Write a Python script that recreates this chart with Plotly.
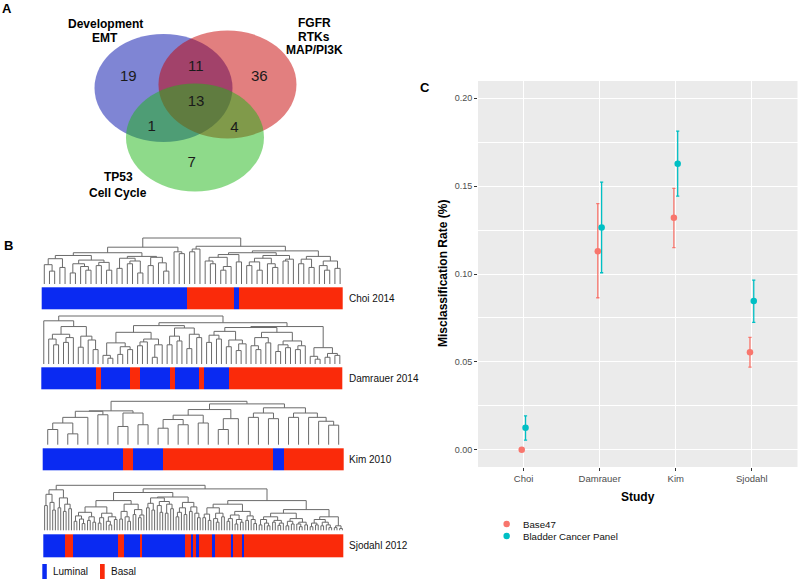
import numpy as np
import plotly.graph_objects as go

FONT = "Liberation Sans, Arial, sans-serif"

# ---------------- Panel C data ----------------
STUDIES = ["Choi", "Damrauer", "Kim", "Sjodahl"]
SERIES = ["Base47", "Bladder Cancer Panel"]
BASE47_RATE = [0.000, 0.113, 0.132, 0.0555]
BASE47_LOW = [0.000, 0.0865, 0.115, 0.047]
BASE47_HIGH = [0.000, 0.140, 0.1487, 0.0639]
BCP_RATE = [0.0125, 0.1265, 0.1627, 0.0846]
BCP_LOW = [0.0055, 0.1007, 0.1443, 0.0725]
BCP_HIGH = [0.0193, 0.1523, 0.1813, 0.0965]
Y_TICKS = [0.00, 0.05, 0.10, 0.15, 0.20]
Y_TICK_TEXT = ["0.00", "0.05", "0.10", "0.15", "0.20"]
Y_MINOR = [0.025, 0.075, 0.125, 0.175]

# ---------------- Panel A data ----------------
VENN_SETS = [["Development", "EMT"], ["FGFR", "RTKs", "MAP/PI3K"], ["TP53", "Cell Cycle"]]
VENN_COUNTS = [19, 11, 36, 13, 1, 4, 7]  # A only, A&B, B only, all, A&C, B&C, C only

# ---------------- Panel B data ----------------
BAR_CLASSES = ["Luminal", "Basal"]
# alternating run lengths of leaf classes, starting with Luminal
CHOI_RUNS = [28, 9, 1, 20]
DAMRAUER_RUNS = [11, 1, 6, 2, 6, 1, 5, 1, 5, 23]
KIM_RUNS = [8, 1, 3, 11, 1, 6]
SJODAHL_RUNS = [8, 3, 17, 2, 6, 1, 16, 2, 1, 1, 1, 5, 1, 6, 1, 3, 1, 37]
STUDY_LABELS = ["Choi 2014", "Damrauer 2014", "Kim 2010", "Sjodahl 2012"]

# dendrograms: "o" = leaf, "(a,b)h" = merge at height h (0..100)
CHOI_TREE = ("((((((o,(o,o)28)42,(o,o)36)55,(((o,o)24,(o,(o,o)30)38)44,((o,o)40,(o,o)30)47)52)62,"
             "(((o,o)34,((o,o)44,(o,o)24)50)56,((o,o)40,(o,(o,o)28)46)58)60)68,(o,(o,o)66)70)80,"
             "(((o,o)70,o)76,(((((o,(o,o)44)50,((o,o)30,o)38)58,(o,o)48)64,"
             "((((o,o)40,(o,o)30)48,(o,(o,o)36)44)56,((o,o)50,o)54)62)68,"
             "(((o,o)44,(o,o)36)54,((o,(o,o)30)40,(o,o)34)50)60)72)82)100")
DAMRAUER_TREE = ("((o,(((o,(o,o)40)52,((o,o)45,o)55)62,((o,o)35,(o,(o,o)30)50)58)78)90,"
                 "(((((o,(o,o)12)18,((o,o)20,(o,o)30)36)44,(((o,o)38,o)46,((o,o)14,o)40)52)66,"
                 "(((o,o)40,(o,o)48)58,((o,o)32,(o,o)55)62)75)80,"
                 "(((((o,o)45,(o,o)52)60,((o,o)36,((o,o)28,o)42)50)68,(((o,(o,o)30)38,(o,o)44)55,"
                 "(((o,o)26,(o,o)34)40,((o,o)30,o)38)48)66)76,"
                 "((o,(o,o)10)16,((o,o)14,(o,o)18)22)34)78)86)100")
KIM_TREE = ("((((((o,o)35,(o,o)25)50,o)63,(o,o)69)77,((o,o)42,(o,o)46)73)78,"
            "(((((o,o)38,(o,o)46)58,(o,o)50)68,((o,o)35,o)60)81,"
            "(((o,o)63,(o,o)60)73,((o,o)63,(o,(o,(o,o)45)54)63)73)85)94)100")
SJ_BLOCKS = {
    "A": "(((o,o)55,(o,(o,o)45)62)80,((o,o)50,((o,o)42,(o,o)48)58)72)90",
    "B": "((((o,o)20,(o,(o,o)15)25)32,((o,o)22,(o,o)18)30)40,(((o,o)16,o)28,((o,(o,o)12)20,(o,o)24)30)38)52",
    "C": "(((o,o)25,(o,(o,o)20)30)42,((o,o)35,((o,o)28,o)34)46)58",
    "D": "(((o,o)50,(o,o)45)60,((o,(o,o)40)55,((o,o)38,(o,o)48)58)64)72",
    "E": "((((o,o)30,o)40,(o,o)35)50,((o,o)42,(o,(o,o)28)38)52)62",
    "F": "(((o,o)28,(o,o)22)36,((o,(o,o)18)26,(o,o)30)38)50",
    "G": "((((o,o)20,o)26,((o,o)14,(o,o)18)24)34,((o,o)22,(o,(o,o)15)24)32)42",
    "H": "(((o,o)12,(o,(o,o)10)16)24,((o,o)18,((o,o)11,o)16)22)30",
    "I": "(((o,o)10,(o,o)14)20,((o,(o,o)8)14,(o,o)12)18)26",
    "J": "(((o,o)8,(o,o)12)16,((o,o)10,(o,(o,o)6)12)18)24",
    "K": "((o,o)6,(o,o)4)10",
}
SJODAHL_TREE = "({A},((({B},{C})66,({D},{E})74)84,(({F},{G})58,(({H},{I})38,({J},{K})30)46)66)92)100".format(**SJ_BLOCKS)

# ---------------- geometry (pixels) ----------------
W, H = 799, 580
# x0, x1, bar_top, bar_bottom, tree_top, tree_base
B_GEOM = [
    (41.7, 342.7, 287.3, 309.3, 238.0, 284.0),
    (41.3, 342.3, 367.3, 389.3, 316.0, 364.0),
    (42.7, 343.7, 448.3, 470.0, 401.3, 444.7),
    (43.3, 343.7, 534.3, 557.3, 485.3, 530.3),
]
VENN_ELLIPSES = [(163.5, 88.0), (227.5, 84.5), (195.0, 137.5)]
VENN_RX, VENN_RY = 69.0, 54.0
VENN_FILLS = ["rgb(0,12,170)", "rgb(198,0,0)", "rgb(30,182,22)"]
VENN_COUNT_XY = [(128.3, 77.5), (195.7, 67.7), (259.3, 77), (196, 102.7), (151.7, 127.5), (234.3, 128.3), (191.7, 163.3)]
VENN_LABEL_XY = [(105, [24, 38]), (314, [23, 37, 50]), (118.3, [177, 192.5])]

BLUE = "#0a2af2"
RED = "#fa2a0a"
C_COLORS = ["#F8766D", "#00BFC4"]

PX = dict(xaxis="x2", yaxis="y2")


def parse_tree(s):
    pos = 0

    def node():
        nonlocal pos
        if s[pos] == "o":
            pos += 1
            return None
        assert s[pos] == "("
        pos += 1
        kids = [node()]
        while s[pos] == ",":
            pos += 1
            kids.append(node())
        assert s[pos] == ")"
        pos += 1
        st = pos
        while pos < len(s) and (s[pos].isdigit() or s[pos] == "."):
            pos += 1
        return (float(s[st:pos]), kids)

    return node()


def tree_lines(tree, geom):
    x0, x1, _, _, top, base = geom
    counter = [0]

    def count(n):
        if n is None:
            return 1
        return sum(count(k) for k in n[1])

    n_leaves = count(tree)
    step = (x1 - x0) / n_leaves
    xs, ys = [], []

    def ypix(h):
        return base - h / 100.0 * (base - top)

    def walk(n):
        if n is None:
            i = counter[0]
            counter[0] += 1
            return x0 + (i + 0.5) * step, 0.0
        h, kids = n
        pts = [walk(k) for k in kids]
        for (cx, ch) in pts:
            xs.extend([cx, cx, None])
            ys.extend([ypix(ch), ypix(h), None])
        xs.extend([pts[0][0], pts[-1][0], None])
        ys.extend([ypix(h), ypix(h), None])
        return (pts[0][0] + pts[-1][0]) / 2.0, h

    walk(tree)
    return xs, ys, n_leaves


fig = go.Figure()

# ---------------- Panel C ----------------
dodge = [-0.025, 0.025]
for k, (rate, lo, hi) in enumerate([(BASE47_RATE, BASE47_LOW, BASE47_HIGH), (BCP_RATE, BCP_LOW, BCP_HIGH)]):
    r = np.array(rate)
    fig.add_trace(go.Scatter(
        x=[i + dodge[k] for i in range(len(STUDIES))], y=r, mode="markers",
        marker=dict(size=6.5, color=C_COLORS[k]),
        error_y=dict(type="data", symmetric=False, array=np.array(hi) - r, arrayminus=r - np.array(lo),
                     color=C_COLORS[k], thickness=1.3, width=1.6),
        name=SERIES[k], showlegend=False, xaxis="x", yaxis="y", hoverinfo="skip"))

# ---------------- Panel B ----------------
trees = [CHOI_TREE, DAMRAUER_TREE, KIM_TREE, SJODAHL_TREE]
runs_all = [CHOI_RUNS, DAMRAUER_RUNS, KIM_RUNS, SJODAHL_RUNS]
for t, runs, geom in zip(trees, runs_all, B_GEOM):
    tr = parse_tree(t)
    xs, ys, n = tree_lines(tr, geom)
    fig.add_trace(go.Scatter(x=xs, y=ys, mode="lines", line=dict(color="#6a6a6a", width=1),
                             showlegend=False, hoverinfo="skip", **PX))
    classes = []
    for j, rl in enumerate(runs):
        classes += [j % 2] * rl
    assert len(classes) == n, (len(classes), n)
    x0, x1, bt, bb, _, _ = geom
    fig.add_trace(go.Heatmap(z=[classes], x=list(np.linspace(x0, x1, n + 1)), y=[bt, bb],
                             colorscale=[[0, BLUE], [1, RED]], zmin=0, zmax=1, showscale=False,
                             hoverinfo="skip", **PX))

# ---------------- Panel A counts ----------------
fig.add_trace(go.Scatter(x=[p[0] for p in VENN_COUNT_XY], y=[p[1] for p in VENN_COUNT_XY],
                         mode="text", text=[str(v) for v in VENN_COUNTS],
                         textfont=dict(size=15, color="#1a1a1a", family=FONT),
                         showlegend=False, hoverinfo="skip", **PX))

# ---------------- Panel C legend (manual) ----------------
LEG_Y = [524, 536]
fig.add_trace(go.Scatter(x=[506.7, 506.7], y=LEG_Y, mode="markers",
                         marker=dict(size=6.5, color=C_COLORS), showlegend=False, hoverinfo="skip", **PX))

shapes = [dict(type="rect", xref="x domain", yref="y domain", x0=0, x1=1, y0=0, y1=1,
               fillcolor="#EBEBEB", line=dict(width=0), layer="below")]
for (cx, cy), col in zip(VENN_ELLIPSES, VENN_FILLS):
    shapes.append(dict(type="circle", xref="x2", yref="y2", x0=cx - VENN_RX, x1=cx + VENN_RX,
                       y0=cy - VENN_RY, y1=cy + VENN_RY, fillcolor=col, opacity=0.5,
                       line=dict(width=0), layer="below"))
# B legend swatches
shapes.append(dict(type="rect", xref="x2", yref="y2", x0=42.3, x1=46.8, y0=564, y1=579,
                   fillcolor=BLUE, line=dict(width=0)))
shapes.append(dict(type="rect", xref="x2", yref="y2", x0=100, x1=104.7, y0=564, y1=579,
                   fillcolor=RED, line=dict(width=0)))

ann = []


def txt(x, y, s, size=10, bold=False, xanchor="center", color="#000", angle=0):
    ann.append(dict(x=x, y=y, xref="x2", yref="y2", text=("<b>%s</b>" % s) if bold else s,
                    showarrow=False, xanchor=xanchor, yanchor="middle", textangle=angle,
                    font=dict(size=size, color=color, family=FONT)))


txt(7, 8, "A", 13, True)
txt(8, 245, "B", 13, True)
txt(425, 87, "C", 13, True)
for (x, ys), lines in zip(VENN_LABEL_XY, VENN_SETS):
    for y, s in zip(ys, lines):
        txt(x, y, s, 12, True)
for lab, geom in zip(STUDY_LABELS, B_GEOM):
    txt(346.5, (geom[2] + geom[3]) / 2, lab, 10, xanchor="left", color="#111")
txt(51, 571.5, BAR_CLASSES[0], 10, xanchor="left", color="#111")
txt(109, 571.5, BAR_CLASSES[1], 10, xanchor="left", color="#111")
txt(443, 274, "Misclassification Rate (%)", 12, True, angle=-90)
txt(638, 497, "Study", 12, True)
for y, s in zip(LEG_Y, SERIES):
    txt(520.5, y, s, 9.7, xanchor="left", color="#111")

fig.update_layout(
    width=W, height=H, autosize=False, margin=dict(l=0, r=0, t=0, b=0),
    paper_bgcolor="white", plot_bgcolor="rgba(0,0,0,0)",
    font=dict(family=FONT), showlegend=False,
    shapes=shapes, annotations=ann,
    xaxis=dict(domain=[478 / W, 797.5 / W], range=[-0.6, 3.6], anchor="y",
               tickvals=list(range(len(STUDIES))), ticktext=STUDIES,
               showgrid=True, gridcolor="white", gridwidth=1.1, zeroline=False, showline=False,
               ticks="outside", ticklen=3, tickcolor="#333333", tickwidth=1,
               tickfont=dict(size=9.5, color="#4D4D4D", family=FONT), fixedrange=True),
    yaxis=dict(domain=[1 - 467 / H, 1 - 81 / H], range=[-0.0098, 0.2098], anchor="x",
               tickvals=Y_TICKS, ticktext=Y_TICK_TEXT,
               showgrid=True, gridcolor="white", gridwidth=1.1, zeroline=False, showline=False,
               ticks="outside", ticklen=3, tickcolor="#333333", tickwidth=1,
               tickfont=dict(size=9, color="#4D4D4D", family=FONT), fixedrange=True,
               minor=dict(tickvals=Y_MINOR, showgrid=True, gridcolor="white", gridwidth=0.5, ticks="")),
    xaxis2=dict(domain=[0, 1], range=[0, W], anchor="y2", visible=False, fixedrange=True),
    yaxis2=dict(domain=[0, 1], range=[H, 0], anchor="x2", visible=False, fixedrange=True),
)

fig.write_html("out.html", config={"displayModeBar": False},
               post_script="document.body.style.margin='0';document.body.style.overflow='hidden';")
